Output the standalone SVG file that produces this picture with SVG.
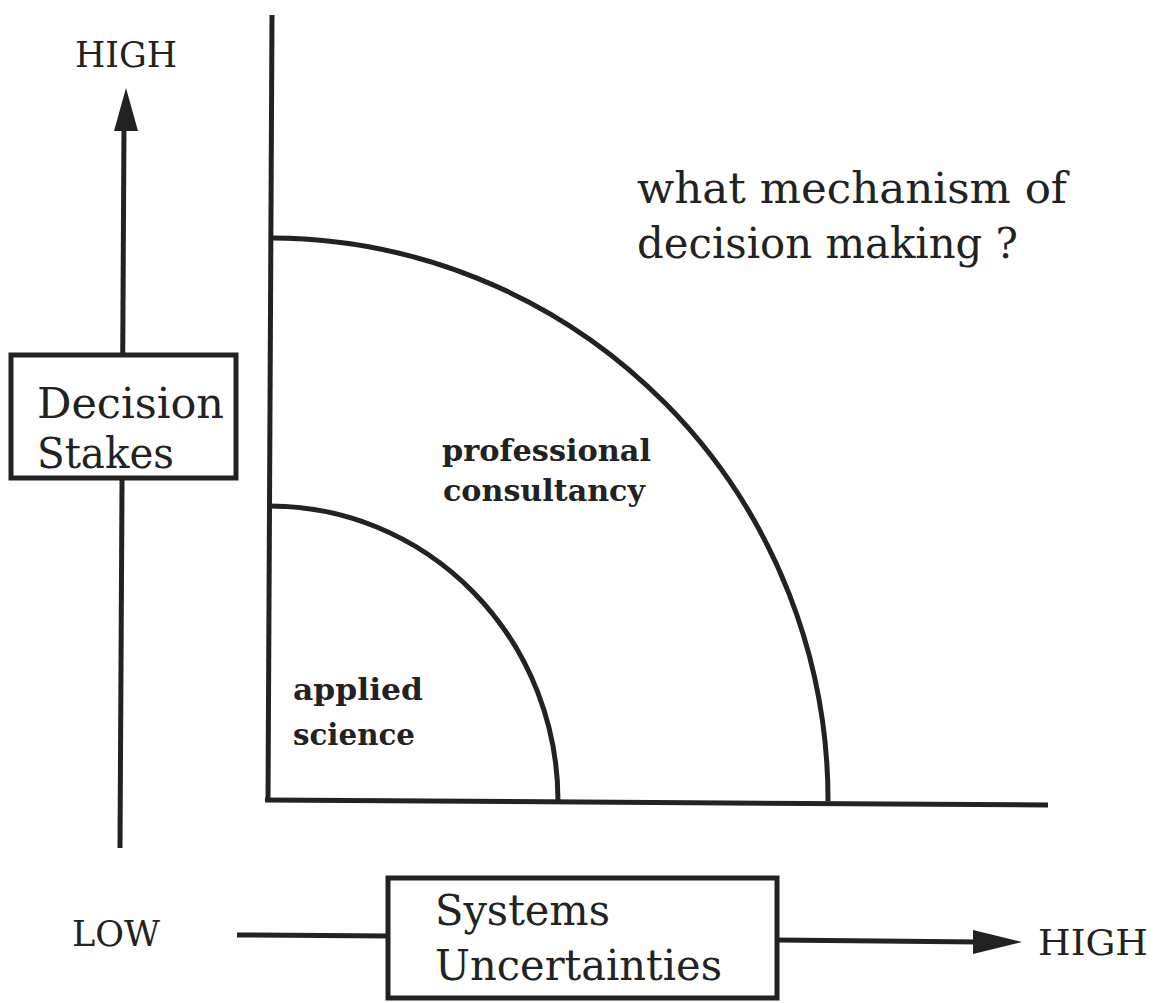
<svg xmlns="http://www.w3.org/2000/svg" width="1156" height="1003" viewBox="0 0 1156 1003">
<defs>
<style>
.ln{stroke:#222;stroke-width:5;fill:none;stroke-linecap:butt}
.bx{stroke:#222;stroke-width:5;fill:#fff}
.t{font-family:"DejaVu Serif","Liberation Serif",serif;fill:#222}
.big{font-size:43px}
.sm{font-size:36px}
.bd{font-size:30px;font-weight:bold}
</style>
</defs>
<rect width="1156" height="1003" fill="#fff"/>
<g id="connectors">
<line class="ln" x1="272" y1="15" x2="268" y2="802"/>
<line class="ln" x1="265" y1="800" x2="1048" y2="805"/>
<path class="ln" d="M271,238 A558,562 0 0 1 828,801"/>
<path class="ln" d="M270,506 A288,295 0 0 1 558,801"/>
<line class="ln" x1="120" y1="848" x2="124" y2="125"/>
<polygon points="126,88 114,131 138,131" fill="#222"/>
<line class="ln" x1="237" y1="935" x2="390" y2="936"/>
<line class="ln" x1="776" y1="940" x2="980" y2="942"/>
<polygon points="1022,942 973,930 973,954" fill="#222"/>
</g>
<g id="label-high-y"><text class="t sm" x="75" y="67" textLength="102" lengthAdjust="spacingAndGlyphs">HIGH</text></g>
<g id="node-decision-stakes">
<rect class="bx" x="11" y="355" width="225" height="123"/>
<text class="t big" x="37" y="418" textLength="187" lengthAdjust="spacingAndGlyphs">Decision</text>
<text class="t big" x="37" y="468" textLength="137" lengthAdjust="spacingAndGlyphs">Stakes</text>
</g>
<g id="label-low"><text class="t sm" x="72" y="946" textLength="88" lengthAdjust="spacingAndGlyphs">LOW</text></g>
<g id="node-systems-uncertainties">
<rect class="bx" x="388" y="878" width="389" height="120"/>
<text class="t big" x="435" y="925" textLength="175" lengthAdjust="spacingAndGlyphs">Systems</text>
<text class="t big" x="435" y="980" textLength="287" lengthAdjust="spacingAndGlyphs">Uncertainties</text>
</g>
<g id="label-high-x"><text class="t sm" x="1038" y="955" textLength="110" lengthAdjust="spacingAndGlyphs">HIGH</text></g>
<g id="label-question">
<text class="t big" x="637" y="203" textLength="430" lengthAdjust="spacingAndGlyphs">what mechanism of</text>
<text class="t big" x="637" y="258" textLength="381" lengthAdjust="spacingAndGlyphs">decision making ?</text>
</g>
<g id="label-professional">
<text class="t bd" x="442" y="461" textLength="209" lengthAdjust="spacingAndGlyphs">professional</text>
<text class="t bd" x="443" y="501" textLength="202" lengthAdjust="spacingAndGlyphs">consultancy</text>
</g>
<g id="label-applied">
<text class="t bd" x="293" y="700" textLength="130" lengthAdjust="spacingAndGlyphs">applied</text>
<text class="t bd" x="293" y="745" textLength="122" lengthAdjust="spacingAndGlyphs">science</text>
</g>
</svg>
